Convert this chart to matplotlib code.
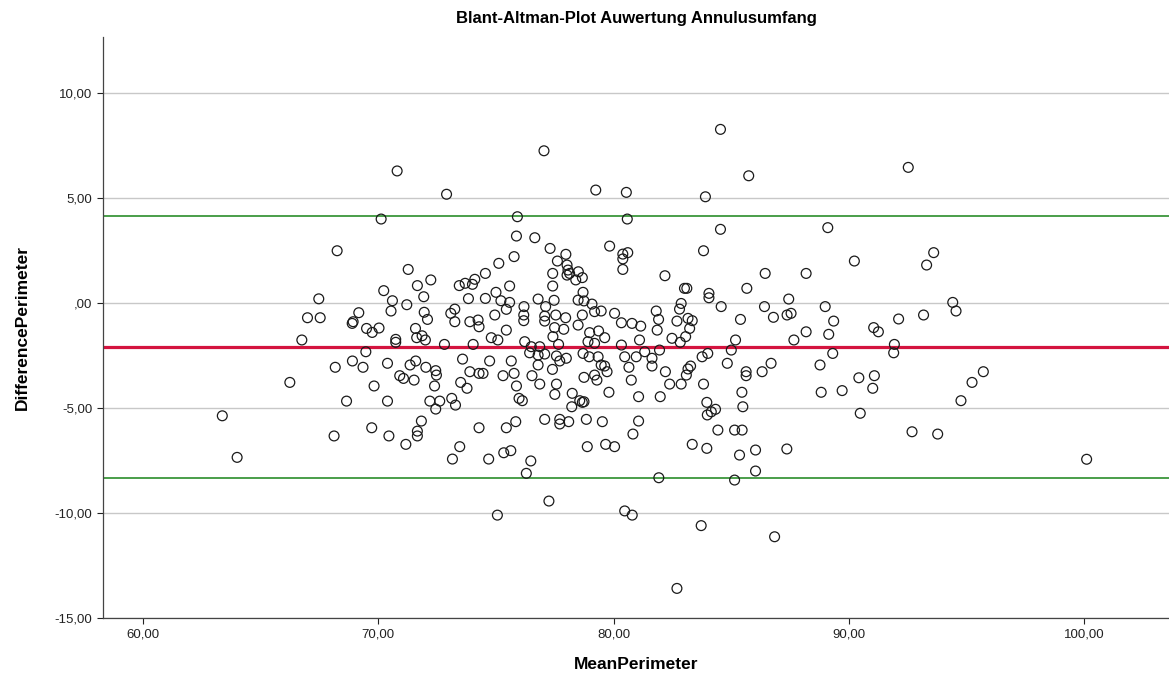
import matplotlib.pyplot as plt
import numpy as np
from matplotlib.ticker import FuncFormatter

plt.rcParams['font.family'] = ['Liberation Sans', 'DejaVu Sans']

mean_perimeter = [
    68.25, 67.47, 66.99, 67.53, 66.75,
    63.37, 64.00, 66.24, 68.17, 68.12,
    70.80, 72.90, 70.12, 71.27, 72.23, 70.23, 71.66, 71.93, 70.60, 71.21,
    70.54, 69.17, 68.93, 68.89, 69.50, 69.74, 70.03, 71.95, 72.09, 71.58,
    71.63, 71.86, 72.00, 70.74, 70.74, 72.81, 74.03, 73.44, 73.69, 74.00,
    74.10, 73.83, 73.25, 73.08, 73.25, 73.89, 74.24, 74.28,
    69.47, 68.90, 69.35, 70.39, 69.82, 68.65, 70.39, 70.91, 71.07, 71.35,
    71.59, 71.52, 72.02, 72.44, 72.47, 72.39, 72.19, 72.61, 72.44, 73.12,
    73.28, 73.58, 73.89, 73.50, 73.77, 74.28, 71.83, 69.72, 70.45, 71.66,
    71.66, 71.17, 73.46, 73.15, 74.28,
    77.04, 79.24, 75.91, 75.87, 76.65, 77.30, 79.83, 75.77, 75.12, 74.55,
    77.97, 77.61, 78.02, 78.06, 78.13, 78.02, 78.50, 78.39, 78.67, 77.41,
    77.41, 75.58, 75.00, 74.55, 75.21, 75.58, 76.79, 77.47, 78.70, 78.49,
    78.74, 79.08, 76.19, 77.11, 75.44, 74.95, 76.18, 76.18, 77.07, 77.54,
    77.96, 79.19, 79.47, 80.04, 78.67, 78.49, 77.07, 75.44, 77.49, 77.88,
    74.80, 75.08, 76.22, 77.42, 77.66, 78.98, 79.36, 78.91, 79.62, 79.19,
    76.50, 76.86,
    76.43, 76.79, 77.07, 77.57, 77.71, 77.99, 74.73, 75.65, 74.45, 75.30,
    75.77, 75.87, 76.53, 76.79, 76.86, 77.40, 77.57, 77.50, 75.98, 76.12,
    78.70, 78.96, 79.34, 78.74, 79.19, 79.29, 79.47, 79.62, 79.72, 78.24,
    78.22, 78.56, 78.67, 78.74, 79.80, 77.07, 77.71, 77.71, 78.09, 78.84,
    79.52, 75.44, 75.84, 74.69, 75.33, 75.63, 76.48, 76.29, 77.25, 75.06,
    78.88, 79.66, 80.04,
    84.54, 85.74, 80.54, 83.90, 80.58, 84.54, 83.82, 80.39, 80.60, 80.39,
    80.39, 82.18, 83.01, 83.11, 85.66, 84.05, 84.05, 82.87, 82.80, 84.57,
    81.81, 80.33, 80.78, 81.15, 81.91, 81.85, 82.69, 83.16, 83.34, 83.23,
    83.06, 82.48, 81.10, 82.83, 85.39, 85.18, 80.33,
    80.47, 80.96, 80.65, 80.75, 81.32, 81.63, 81.63, 81.95, 82.20, 82.38,
    82.87, 83.09, 83.16, 83.27, 83.76, 84.00, 83.82, 84.83, 85.00, 85.63,
    85.63, 81.06, 81.98, 85.45, 83.96, 83.98, 84.15, 84.33, 85.49, 81.06,
    80.82, 83.34, 83.96, 84.43, 85.14, 85.46, 85.35, 86.03, 86.03, 81.92,
    85.14, 80.47, 80.79, 83.72, 82.69,
    89.10, 90.23, 86.44, 88.18, 87.44, 86.41, 88.99, 86.79, 87.37, 87.54,
    89.35, 88.18, 89.14, 87.66, 91.05, 91.25, 92.11, 91.93,
    89.31, 86.69, 86.31, 88.77, 90.42, 91.08, 91.01, 88.82, 89.71, 90.48,
    91.90, 87.36, 86.84,
    92.52, 93.60, 93.30, 94.41, 94.55, 93.17,
    94.76, 95.23, 95.71, 92.68, 93.77, 100.10,
]
difference_perimeter = [
    2.49, 0.20, -0.70, -0.70, -1.76,
    -5.37, -7.35, -3.78, -3.06, -6.33,
    6.29, 5.18, 4.00, 1.60, 1.10, 0.59, 0.83, 0.30, 0.11, -0.08,
    -0.38, -0.46, -0.89, -0.97, -1.21, -1.40, -1.19, -0.44, -0.78, -1.21,
    -1.65, -1.56, -1.76, -1.73, -1.87, -1.97, -1.97, 0.83, 0.94, 0.89,
    1.13, 0.21, -0.29, -0.49, -0.89, -0.89, -0.81, -1.13,
    -2.32, -2.76, -3.06, -2.87, -3.95, -4.67, -4.67, -3.46, -3.59, -2.95,
    -2.76, -3.67, -3.06, -3.22, -3.43, -3.95, -4.67, -4.67, -5.05, -4.54,
    -4.86, -2.67, -3.27, -3.78, -4.06, -3.35, -5.62, -5.94, -6.33, -6.10,
    -6.33, -6.73, -6.84, -7.43, -5.94,
    7.25, 5.38, 4.11, 3.19, 3.11, 2.60, 2.71, 2.21, 1.89, 1.41,
    2.32, 2.00, 1.81, 1.57, 1.41, 1.33, 1.49, 1.10, 1.21, 1.41,
    0.81, 0.81, 0.51, 0.22, 0.11, 0.03, 0.19, 0.13, 0.51, 0.14,
    0.10, -0.05, -0.17, -0.17, -0.30, -0.57, -0.57, -0.84, -0.62, -0.57,
    -0.70, -0.41, -0.38, -0.49, -0.57, -1.05, -0.86, -1.29, -1.17, -1.25,
    -1.65, -1.76, -1.84, -1.60, -1.97, -1.41, -1.33, -1.84, -1.65, -1.92,
    -2.08, -2.08,
    -2.37, -2.48, -2.43, -2.52, -2.76, -2.63, -2.76, -2.76, -3.35, -3.46,
    -3.35, -3.95, -3.46, -2.95, -3.86, -3.16, -3.86, -4.35, -4.54, -4.65,
    -2.40, -2.56, -2.56, -3.54, -3.43, -3.67, -2.95, -3.00, -3.27, -4.30,
    -4.94, -4.65, -4.73, -4.70, -4.25, -5.54, -5.54, -5.76, -5.65, -5.54,
    -5.65, -5.94, -5.65, -7.43, -7.13, -7.03, -7.52, -8.11, -9.43, -10.10,
    -6.84, -6.73, -6.84,
    8.27, 6.06, 5.27, 5.06, 4.00, 3.51, 2.49, 2.33, 2.40, 2.10,
    1.60, 1.30, 0.70, 0.70, 0.70, 0.46, 0.25, -0.02, -0.29, -0.17,
    -0.38, -0.94, -0.97, -1.10, -0.78, -1.29, -0.86, -0.73, -0.84, -1.21,
    -1.60, -1.68, -1.76, -1.87, -0.78, -1.76, -2.00,
    -2.56, -2.56, -3.06, -3.67, -2.32, -2.63, -3.00, -2.24, -3.27, -3.86,
    -3.86, -3.43, -3.14, -3.00, -2.56, -2.40, -3.86, -2.87, -2.24, -3.27,
    -3.46, -4.46, -4.46, -4.25, -4.73, -5.33, -5.18, -5.06, -4.94, -5.62,
    -6.24, -6.73, -6.92, -6.05, -6.05, -6.05, -7.24, -7.00, -8.00, -8.32,
    -8.43, -9.90, -10.10, -10.60, -13.59,
    3.59, 2.00, 1.41, 1.41, 0.19, -0.17, -0.17, -0.68, -0.57, -0.49,
    -0.86, -1.37, -1.49, -1.76, -1.17, -1.37, -0.76, -1.97,
    -2.40, -2.87, -3.27, -2.95, -3.56, -3.46, -4.06, -4.25, -4.17, -5.25,
    -2.37, -6.95, -11.13,
    6.46, 2.40, 1.81, 0.03, -0.38, -0.57,
    -4.65, -3.78, -3.27, -6.13, -6.24, -7.44,
]

# bias and limits of agreement
mean_diff = -2.10
upper_loa = 4.14
lower_loa = -8.33

x_ticks = [60, 70, 80, 90, 100]
y_ticks = [-15, -10, -5, 0, 5, 10]


def de_fmt(v, pos=None):
    s = f"{v:.2f}".replace('.', ',')
    if s.startswith('0,'):
        s = s[1:]
    return s


fig = plt.figure(figsize=(11.69, 6.86), dpi=100)
ax = fig.add_axes([0.0881, 0.0991, 0.9119, 0.847])

ax.set_xlim(58.3, 103.6)
ax.set_ylim(-15, 12.67)

ax.set_yticks(y_ticks)
ax.set_xticks(x_ticks)
ax.yaxis.set_major_formatter(FuncFormatter(de_fmt))
ax.xaxis.set_major_formatter(FuncFormatter(de_fmt))
ax.grid(axis='y', color='#c8c8c8', linewidth=1.0)
ax.set_axisbelow(True)

ax.axhline(upper_loa, color='#3c963c', linewidth=1.3, zorder=2)
ax.axhline(lower_loa, color='#3c963c', linewidth=1.3, zorder=2)
ax.axhline(mean_diff, color='#d4143f', linewidth=2.3, zorder=2)

ax.scatter(mean_perimeter, difference_perimeter, s=50, facecolors='none',
           edgecolors='#1a1a1a', linewidths=0.9, zorder=3)

for side in ['top', 'right']:
    ax.spines[side].set_visible(False)
for side in ['left', 'bottom']:
    ax.spines[side].set_color('#444444')
    ax.spines[side].set_linewidth(0.9)
ax.tick_params(axis='both', labelsize=9.5, colors='#222222', length=4, width=0.8)

ax.set_title("Blant-Altman-Plot Auwertung Annulusumfang", fontsize=12,
             fontweight='bold', pad=10)
ax.set_xlabel("MeanPerimeter", fontsize=12.5, fontweight='bold', labelpad=12)
ax.set_ylabel("DifferencePerimeter", fontsize=12.5, fontweight='bold', labelpad=18)

fig.savefig("out.png", dpi=100)
